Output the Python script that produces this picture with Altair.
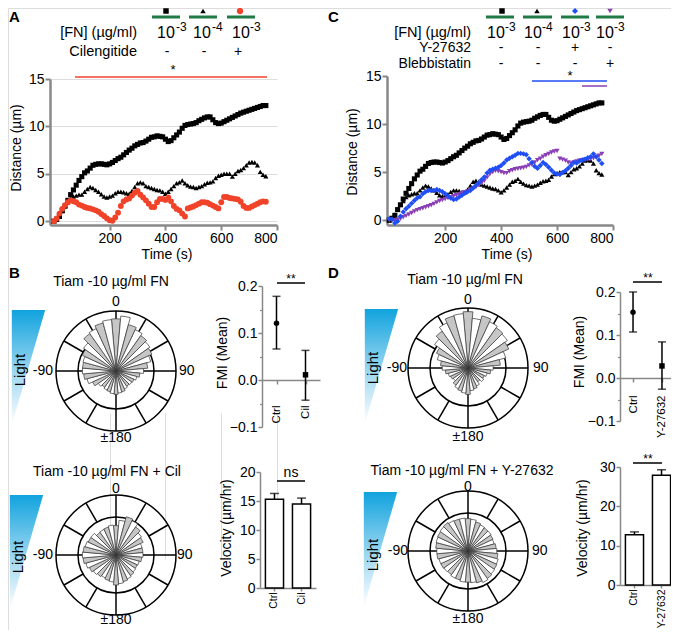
import math
import altair as alt
import pandas as pd

FONT = "Liberation Sans"
M = 8            # page margin
W, H = 663, 622  # drawing area
GREEN = "#1f7a45"
RED = "#f0432a"
BLUE = "#1f4ef5"
PURPLE = "#8a3fb5"
GRAY = "#c6c6c6"

# ---------------- data ----------------
time_s = list(range(0, 761, 10))
dist_fn3 = [0, 0.2, 0.5, 1.1, 1.6, 2.2, 2.8, 3.3, 3.8, 4.3,
            4.7, 5.1, 5.3, 5.6, 5.9, 6.0, 6.05, 6.05, 6.0, 5.95,
            6.05, 6.2, 6.4, 6.6, 6.75, 7.0, 7.25, 7.5, 7.7, 7.95,
            8.1, 8.25, 8.3, 8.45, 8.65, 8.85, 8.9, 9.0, 8.95, 8.9,
            8.65, 8.4, 8.5, 8.8, 9.1, 9.4, 9.8, 10.1, 10.2, 10.25,
            10.3, 10.4, 10.6, 10.75, 10.9, 11.0, 11.0, 10.7, 10.4, 10.3,
            10.35, 10.5, 10.65, 10.8, 10.95, 11.1, 11.25, 11.4, 11.5, 11.6,
            11.7, 11.8, 11.9, 12.0, 12.1, 12.2, 12.2]
dist_fn4 = [0, 0.2, 0.6, 1.1, 1.6, 2.0, 2.4, 2.6, 2.7, 2.8,
            2.8, 3.1, 3.4, 3.6, 3.5, 3.3, 3.1, 2.85, 2.6, 2.5,
            2.6, 2.7, 2.95, 3.1, 3.1, 3.05, 2.95, 2.9, 3.2, 3.6,
            4.0, 4.1, 4.0, 3.7, 3.6, 3.5, 3.4, 3.3, 3.25, 3.1,
            2.9, 3.1, 3.4, 3.7, 4.0, 4.1, 4.3, 4.0, 3.8, 3.65,
            3.6, 3.5, 3.6, 3.7, 3.9, 4.05, 4.1, 4.2, 4.55, 4.8,
            4.9, 5.0, 5.0, 5.0, 4.7, 5.0, 5.3, 5.4, 5.6, 5.9,
            6.2, 6.25, 6.2, 5.9, 5.2, 4.9, 4.75]
dist_cil = [0, 0.3, 0.8, 1.3, 1.7, 2.0, 2.2, 2.1, 2.0, 1.75,
            1.65, 1.5, 1.4, 1.35, 1.25, 1.15, 1.0, 0.75, 0.55, 0.3,
            0.1, 0.05, 0.4, 0.9, 1.6, 2.1, 2.3, 2.4, 2.7, 3.0,
            3.2, 2.8, 2.5, 2.2, 1.85, 1.5, 1.5, 2.0, 2.35, 2.35,
            2.25, 2.5, 2.1, 1.6, 1.3, 1.15, 0.8, 0.5, 1.35, 1.45,
            1.55, 1.7, 1.85, 2.0, 2.0, 1.95, 1.8, 1.65, 1.5, 1.35,
            2.0, 2.55, 2.55, 2.45, 2.4, 2.35, 2.3, 2.05, 1.6, 1.4,
            1.4, 1.55, 1.7, 1.85, 2.0, 2.1, 2.05]
dist_y27 = [0.15, 0.1, -0.3, -0.1, 0.4, 0.85, 1.2, 1.45, 1.75, 2.05,
            2.3, 2.45, 2.75, 2.95, 3.1, 3.1, 3.1, 3.2, 3.1, 2.95,
            2.75, 2.5, 2.3, 2.15, 2.2, 2.4, 2.6, 2.8, 2.95, 3.1,
            3.35, 3.6, 3.9, 4.2, 4.5, 4.9, 5.2, 5.3, 5.4, 5.5,
            5.7, 5.95, 6.25, 6.45, 6.6, 6.75, 6.95, 6.95, 6.9, 6.8,
            6.4, 6.0, 5.6, 5.4, 5.7, 6.0, 5.8, 5.5, 5.2, 4.9,
            4.8, 4.75, 4.95, 5.15, 5.4, 5.7, 6.0, 5.95, 6.15, 6.25,
            6.35, 6.5, 6.6, 6.9, 6.6, 6.25, 5.9]
dist_bleb = [0, 0, 0, 0.05, 0.15, 0.3, 0.45, 0.6, 0.75, 0.9,
             1.05, 1.15, 1.25, 1.35, 1.45, 1.55, 1.7, 1.85, 2.0, 2.1,
             2.2, 2.3, 2.4, 2.5, 2.6, 2.7, 2.8, 2.9, 3.0, 3.15,
             3.3, 3.45, 3.65, 3.85, 4.1, 4.45, 4.8, 5.0, 5.15, 5.1,
             5.0, 4.9, 4.9, 5.1, 5.2, 5.3, 5.35, 5.4, 5.45, 5.55,
             5.7, 5.8, 6.0, 6.25, 6.4, 6.6, 6.75, 6.9, 7.05, 7.15,
             7.2, 6.4, 6.3, 6.2, 6.0, 5.9, 6.0, 6.1, 6.2, 6.25,
             6.3, 6.3, 6.4, 6.45, 6.55, 6.7, 6.9]

# rose histograms: 36 bins of 10 deg (0 = up, clockwise), relative length
rose_fn = [0.87, 0.92, 0.80, 0.76, 0.72, 0.69, 0.66, 0.60, 0.53, 0.46, 0.40, 0.36,
           0.33, 0.32, 0.31, 0.33, 0.36, 0.37, 0.39, 0.38, 0.36, 0.35, 0.33, 0.36,
           0.43, 0.50, 0.54, 0.56, 0.56, 0.57, 0.62, 0.66, 0.76, 0.78, 0.83, 0.86]
rose_fn_cil = [0.49, 0.58, 0.66, 0.63, 0.57, 0.52, 0.50, 0.45, 0.45, 0.45, 0.43, 0.40,
               0.39, 0.40, 0.42, 0.44, 0.46, 0.48, 0.50, 0.45, 0.44, 0.42, 0.44, 0.46,
               0.49, 0.52, 0.55, 0.56, 0.55, 0.53, 0.51, 0.51, 0.46, 0.47, 0.48, 0.50]
rose_fn_d = [0.94, 0.83, 0.90, 0.85, 0.82, 0.80, 0.75, 0.65, 0.54, 0.42, 0.38, 0.33,
             0.30, 0.32, 0.28, 0.33, 0.36, 0.38, 0.44, 0.42, 0.40, 0.38, 0.35, 0.30,
             0.32, 0.34, 0.38, 0.43, 0.46, 0.53, 0.58, 0.68, 0.75, 0.83, 0.90, 0.91]
rose_fn_y27 = [0.54, 0.53, 0.50, 0.48, 0.47, 0.47, 0.46, 0.45, 0.47, 0.48, 0.50, 0.52,
               0.53, 0.54, 0.56, 0.58, 0.55, 0.53, 0.52, 0.52, 0.50, 0.50, 0.48, 0.49,
               0.50, 0.50, 0.52, 0.52, 0.54, 0.55, 0.56, 0.57, 0.58, 0.56, 0.55, 0.55]
bin_index = list(range(36))
spoke_angles = [0, 90, 180, 270, 30, 60, 120, 150, 210, 240, 300, 330]
spoke_start = [0, 0, 0, 0, 0.633, 0.633, 0.633, 0.633, 0.633, 0.633, 0.633, 0.633]

fmi_groups_b = ["Ctrl", "Cil"]
fmi_mean_b = [0.121, 0.011]
fmi_lo_b = [0.066, -0.043]
fmi_hi_b = [0.178, 0.063]
fmi_groups_d = ["Ctrl", "Y-27632"]
fmi_mean_d = [0.153, 0.028]
fmi_lo_d = [0.107, -0.026]
fmi_hi_d = [0.200, 0.084]

vel_groups_b = ["Ctrl", "Cil"]
vel_mean_b = [15.3, 14.5]
vel_hi_b = [16.3, 15.5]
vel_groups_d = ["Ctrl", "Y-27632"]
vel_mean_d = [12.8, 27.9]
vel_hi_d = [13.5, 29.3]


def P(v):
    return v - M


ONE = alt.InlineData(values=[{"k": 0}])


def text(s, X, Y, size=14, align="center", angle=0, bold=False, color="black"):
    kw = dict(text=s, fontSize=size, align=align, baseline="middle", font=FONT, color=color)
    if angle:
        kw["angle"] = angle
    if bold:
        kw["fontWeight"] = "bold"
    return alt.Chart(ONE).mark_text(**kw).encode(x=alt.value(P(X)), y=alt.value(P(Y)))


def hline(X0, X1, Y, color="black", width=1.5):
    return alt.Chart(ONE).mark_rule(color=color, strokeWidth=width).encode(
        x=alt.value(P(X0)), x2=alt.value(P(X1)), y=alt.value(P(Y)))


def symbol(shape, X, Y, color, size=30):
    return alt.Chart(ONE).mark_point(shape=shape, filled=True, color=color, size=size, opacity=1).encode(
        x=alt.value(P(X)), y=alt.value(P(Y)))


traj = pd.DataFrame({"t": time_s, "fn3": dist_fn3, "fn4": dist_fn4, "cil": dist_cil,
                     "y27": dist_y27, "bleb": dist_bleb})


def traj_panel(X0, X1, xdom0, Ytop, ydom0, series):
    xs = alt.Scale(domain=[xdom0, 800], range=[P(X0), P(X1)], nice=False, zero=False)
    ys = alt.Scale(domain=[ydom0, 15], range=[P(225), P(Ytop)], nice=False, zero=False)
    xax = alt.Axis(orient="bottom", offset=P(225) - H, values=[200, 400, 600, 800], title=None,
                   tickSize=5, tickWidth=2, domainWidth=2.5, labelFontSize=14, labelPadding=1)
    yax = alt.Axis(orient="left", offset=-P(X0), values=[0, 5, 10, 15], title=None,
                   tickSize=5, tickWidth=2, domainWidth=2.5, labelFontSize=14, labelPadding=1)
    out = []
    for i, (col, shape, color, size) in enumerate(series):
        out.append(alt.Chart(traj).mark_point(shape=shape, filled=True, color=color, size=size, opacity=1).encode(
            x=alt.X("t:Q", scale=xs, axis=xax if i == 0 else None),
            y=alt.Y(f"{col}:Q", scale=ys, axis=yax if i == 0 else None)))
    return out


def fmi_panel(groups, mean, lo, hi, X0, X1, pad, Yzero, Ylo, Yhi, labpad):
    df = pd.DataFrame({"g": groups, "m": mean, "lo": lo, "hi": hi})
    xs = alt.Scale(type="point", domain=groups, range=[P(X0), P(X1)], padding=pad)
    ys = alt.Scale(domain=[-0.1, 0.2], range=[P(Ylo), P(Yhi)], nice=False, zero=False)
    xax = alt.Axis(orient="bottom", offset=P(Yzero) - H, title=None, tickSize=4, tickWidth=1.5,
                   domainWidth=1.5, labelAngle=270, labelFontSize=11.5, labelPadding=labpad)
    yax = alt.Axis(orient="left", offset=-P(X0), values=[-0.1, 0, 0.1, 0.2], format=".1f", title=None,
                   tickSize=4, tickWidth=1.5, domainWidth=1.5, labelFontSize=14, labelPadding=1)
    minor = alt.Axis(orient="left", offset=-P(X0), values=[-0.05, 0.05, 0.15], title=None, labels=False,
                     domain=False, tickSize=2.5, tickWidth=1.2)
    base = alt.Chart(df)
    rule = base.mark_rule(color="black", strokeWidth=1.5).encode(
        x=alt.X("g:N", scale=xs, axis=xax), y=alt.Y("lo:Q", scale=ys, axis=yax), y2="hi:Q")
    cap_lo = base.mark_tick(color="black", thickness=1.5, size=8).encode(
        x=alt.X("g:N", scale=xs, axis=None), y=alt.Y("lo:Q", scale=ys, axis=minor))
    cap_hi = base.mark_tick(color="black", thickness=1.5, size=8).encode(
        x=alt.X("g:N", scale=xs, axis=None), y=alt.Y("hi:Q", scale=ys, axis=None))
    pts = base.mark_point(filled=True, color="black", size=30, opacity=1).encode(
        x=alt.X("g:N", scale=xs, axis=None), y=alt.Y("m:Q", scale=ys, axis=None),
        shape=alt.condition("datum.g == 'Ctrl'", alt.value("circle"), alt.value("square")))
    return [rule, cap_lo, cap_hi, pts]


def vel_panel(groups, mean, hi, X0, X1, Ybase, Ytop, ymax, yvals):
    df = pd.DataFrame({"g": groups, "m": mean, "hi": hi})
    xs = alt.Scale(type="band", domain=groups, range=[P(X0), P(X1)], paddingInner=0.33, paddingOuter=0.2)
    ys = alt.Scale(domain=[0, ymax], range=[P(Ybase), P(Ytop)], nice=False, zero=False)
    xax = alt.Axis(orient="bottom", offset=P(Ybase) - H, title=None, tickSize=3, tickWidth=1.5,
                   domainWidth=1.5, labelAngle=270, labelFontSize=10.5, labelPadding=1)
    yax = alt.Axis(orient="left", offset=-P(X0), values=yvals, title=None,
                   tickSize=4, tickWidth=1.5, domainWidth=1.5, labelFontSize=14, labelPadding=1)
    base = alt.Chart(df)
    bars = base.mark_bar(fill="white", stroke="black", strokeWidth=1.5).encode(
        x=alt.X("g:N", scale=xs, axis=xax), y=alt.Y("m:Q", scale=ys, axis=yax))
    err = base.mark_rule(color="black", strokeWidth=1.5).encode(
        x=alt.X("g:N", scale=xs, axis=None), y=alt.Y("m:Q", scale=ys, axis=None), y2="hi:Q")
    cap = base.mark_tick(color="black", thickness=1.5, size=9).encode(
        x=alt.X("g:N", scale=xs, axis=None), y=alt.Y("hi:Q", scale=ys, axis=None))
    return [bars, err, cap]


TH = alt.Scale(domain=[0, 360], range=[0, 2 * math.pi])
RAD = alt.Scale(type="linear", domain=[0, 1], range=[0, 60], nice=False, zero=True)


def polar_panel(rvals, CX, CY):
    cx, cy = P(CX), P(CY)
    df = pd.DataFrame({"i": bin_index, "r": rvals})
    wedges = alt.Chart(df).transform_calculate(
        a0="datum.i * 10 - 5", a1="datum.i * 10 + 5"
    ).mark_arc(stroke="#333333", strokeWidth=0.7).encode(
        theta=alt.Theta("a0:Q", scale=TH, stack=False), theta2="a1:Q",
        radius=alt.Radius("r:Q", scale=RAD),
        fill=alt.condition("datum.i % 2 == 0", alt.value(GRAY), alt.value("white")),
        x=alt.value(cx), y=alt.value(cy))

    def ring(rad):
        return alt.Chart(ONE).mark_arc(radius=rad, theta=0, theta2=2 * math.pi, filled=False,
                                       stroke="black", strokeWidth=1.5).encode(
            x=alt.value(cx), y=alt.value(cy))

    spokes = alt.Chart(pd.DataFrame({"ang": spoke_angles, "r0": spoke_start})).transform_calculate(
        x0="datum.r0 * sin(datum.ang * PI / 180)", y0="datum.r0 * cos(datum.ang * PI / 180)",
        x1="sin(datum.ang * PI / 180)", y1="cos(datum.ang * PI / 180)"
    ).mark_rule(color="black", strokeWidth=1.5).encode(
        x=alt.X("x0:Q", scale=alt.Scale(domain=[-1, 1], range=[cx - 60, cx + 60], nice=False, zero=False), axis=None),
        y=alt.Y("y0:Q", scale=alt.Scale(domain=[-1, 1], range=[cy + 60, cy - 60], nice=False, zero=False), axis=None),
        x2="x1:Q", y2="y1:Q")
    return [ring(60), ring(38), spokes, wedges]


GRAD = {"gradient": "linear", "x1": 0, "x2": 0, "y1": 0, "y2": 1,
        "stops": [{"offset": 0, "color": "#11a3de"}, {"offset": 0.55, "color": "#9fd8f1"},
                  {"offset": 1, "color": "#ffffff"}]}


def light(XL, TY, TX, TYc):
    tri = alt.Chart(ONE).mark_point(shape="M -0.29 -1 L 0.29 -1 L -0.29 1 Z", size=13225, filled=True,
                                    fill=GRAD, opacity=1, strokeWidth=0).encode(
        x=alt.value(P(XL + 16.5)), y=alt.value(P(TY + 57.5)))
    return [tri, text("Light", TX, TYc, size=15, angle=270)]


def power(X, Y, exp, base_dx, exp_dx):
    return [text("10", X + base_dx, Y, size=16, align="left"),
            text(exp, X + exp_dx, Y - 6, size=12, align="left")]


layers = []

# ---- panel A ----
layers += traj_panel(50, 277, -14, 79, -0.4, [
    ("fn3", "square", "black", 26), ("fn4", "triangle-up", "black", 26), ("cil", "circle", RED, 34)])
# ---- panel C ----
layers += traj_panel(387, 613, -8, 76, -0.5, [
    ("fn3", "square", "black", 26), ("fn4", "triangle-up", "black", 26),
    ("bleb", "triangle-down", PURPLE, 26), ("y27", "diamond", BLUE, 30)])

layers += fmi_panel(fmi_groups_b, fmi_mean_b, fmi_lo_b, fmi_hi_b, 262, 320, 0.5, 380, 427, 286, 21)
layers += fmi_panel(fmi_groups_d, fmi_mean_d, fmi_lo_d, fmi_hi_d, 620, 675, 0.45, 378, 421, 292, 13)
layers += vel_panel(vel_groups_b, vel_mean_b, vel_hi_b, 260, 316, 588, 472, 20, [0, 5, 10, 15, 20])
layers += vel_panel(vel_groups_d, vel_mean_d, vel_hi_d, 620, 676, 585, 467, 30, [0, 10, 20, 30])

layers += polar_panel(rose_fn, 116, 371)
layers += polar_panel(rose_fn_cil, 116, 555)
layers += polar_panel(rose_fn_d, 468, 368)
layers += polar_panel(rose_fn_y27, 468, 551)

layers += light(12, 310, 20, 370)
layers += light(10, 495, 18, 557)
layers += light(365, 309, 373, 368)
layers += light(364, 492, 373, 555)

# panel letters
layers += [text("A", 9, 17, 15, align="left", bold=True), text("B", 9, 273, 15, align="left", bold=True),
           text("C", 328, 17, 15, align="left", bold=True), text("D", 328, 273, 15, align="left", bold=True)]

# header A
layers += [symbol("square", 166, 11, "black", 30), symbol("triangle-up", 203, 11, "black", 30),
           symbol("circle", 240, 11, RED, 40)]
layers += [hline(152, 180, 17, GREEN, 3), hline(189, 217, 17, GREEN, 3), hline(227, 255, 17, GREEN, 3)]
layers.append(text("[FN] (\u00b5g/ml)", 137, 33, 14.5, align="right"))
layers += power(166, 33, "-3", -9, 10) + power(203, 33, "-4", -10, 9) + power(240, 33, "-3", -8, 10)
layers.append(text("Cilengitide", 137, 52, 14.5, align="right"))
layers += [text("-", 167, 52, 14), text("-", 204, 52, 14), text("+", 238, 52, 14)]
layers += [text("*", 173, 70, 13), hline(75, 267, 77, RED, 1.5)]

# header C
layers += [symbol("square", 502, 11, "black", 30), symbol("triangle-up", 537, 11, "black", 30),
           symbol("diamond", 575, 11, BLUE, 36), symbol("triangle-down", 610, 11, PURPLE, 30)]
layers += [hline(486, 514, 17, GREEN, 3), hline(523, 552, 17, GREEN, 3),
           hline(561, 589, 17, GREEN, 3), hline(596, 624, 17, GREEN, 3)]
layers.append(text("[FN] (\u00b5g/ml)", 471, 32.5, 14.5, align="right"))
layers += power(501, 32.5, "-3", -14, 4) + power(538, 32.5, "-4", -14, 4) + power(576, 32.5, "-3", -14, 4) + power(610, 32.5, "-3", -14, 4)
layers.append(text("Y-27632", 471, 48, 14, align="right"))
layers += [text("-", 501, 48, 14), text("-", 538, 48, 14), text("+", 575, 48, 14), text("-", 610, 48, 14)]
layers.append(text("Blebbistatin", 471, 63.5, 14, align="right"))
layers += [text("-", 501, 63.5, 14), text("-", 538, 63.5, 14), text("-", 575, 63.5, 14), text("+", 610, 63.5, 14)]
layers += [text("*", 570, 76, 13), hline(532, 607, 81, BLUE, 1.5), hline(582, 607, 86, PURPLE, 1.5)]

# axis titles
layers += [text("Distance (\u00b5m)", 17, 148, 14, angle=270), text("Time (s)", 167, 255, 14),
           text("Distance (\u00b5m)", 353, 152, 14, angle=270), text("Time (s)", 507, 255, 14),
           text("FMI (Mean)", 223, 353, 14, angle=270), text("FMI (Mean)", 580, 352, 14, angle=270),
           text("Velocity (\u00b5m/hr)", 227, 528, 14, angle=270),
           text("Velocity (\u00b5m/hr)", 583, 528, 14, angle=270)]

# rose titles and direction labels
layers += [text("Tiam -10 \u00b5g/ml FN", 111, 282, 14), text("Tiam -10 \u00b5g/ml FN + Cil", 107, 472, 14),
           text("Tiam -10 \u00b5g/ml FN", 465, 280, 14), text("Tiam -10 \u00b5g/ml FN + Y-27632", 462, 471, 14)]
for (cx, cy, top, left, right, bottom) in [(116, 371, 302, 53, 179, 438), (116, 555, 489, 53, 177, 620),
                                           (468, 368, 300, 407, 533, 437), (468, 551, 487, 408, 532, 619)]:
    layers += [text("0", cx, top, 14), text("-90", left, cy, 14, align="right"),
               text("90", right, cy, 14, align="left"), text("\u00b1180", cx, bottom, 14)]

# significance brackets
layers += [text("**", 291, 279, 12), hline(277, 305, 283),
           text("**", 648, 278, 12), hline(633, 662, 282),
           text("ns", 291, 473, 14), hline(277, 305, 481),
           text("**", 648, 459, 12), hline(633, 662, 463)]

chart = alt.layer(*layers).resolve_scale(x="independent", y="independent").properties(
    width=W, height=H, padding=0, autosize=alt.AutoSizeParams(type="none")
).configure_view(stroke=None).configure_axis(
    labelFont=FONT, labelColor="black", domainColor="black", tickColor="black", grid=False
).configure(background="white")

chart.save("out.html", embed_options={"renderer": "svg", "actions": False})
